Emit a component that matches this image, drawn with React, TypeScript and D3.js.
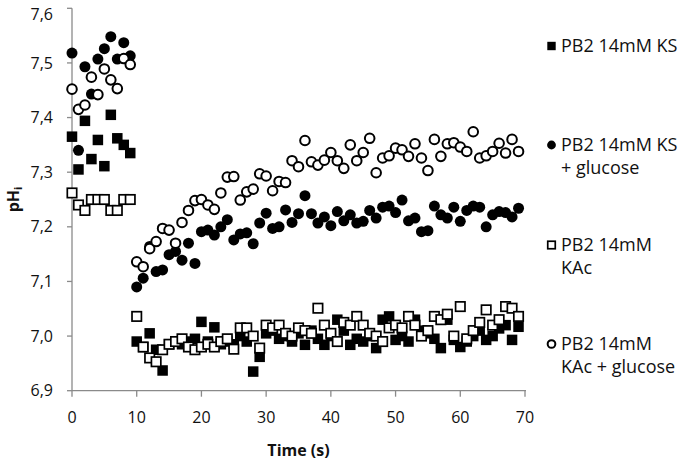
import React from "react";
import * as d3 from "d3";

// time points (s)
const timeA = [0, 1, 2, 3, 4, 5, 6, 7, 8, 9];
const timeB = d3.range(10, 70);

// PB2 14mM KS (filled squares)
const ksA = [7.365, 7.305, 7.394, 7.324, 7.359, 7.311, 7.405, 7.362, 7.35, 7.335];
const ksB = [6.99, 6.98, 7.005, 6.975, 6.937, 6.985, 6.99, 6.985, 6.99, 6.995,
  7.026, 6.99, 7.016, 6.985, 6.99, 6.985, 7.0, 6.99, 6.935, 6.962,
  7.005, 7.01, 6.995, 7.0, 6.99, 7.005, 6.984, 7.01, 6.995, 6.984,
  7.0, 7.03, 7.01, 6.984, 6.995, 6.99, 7.0, 6.978, 7.03, 7.036,
  6.993, 7.0, 6.99, 7.03, 7.01, 7.005, 6.995, 6.978, 7.03, 6.993,
  6.98, 6.99, 7.0, 7.01, 6.993, 7.0, 7.014, 7.02, 6.993, 7.017];

// PB2 14mM KS + glucose (filled circles)
const ksgA = [7.518, 7.34, 7.493, 7.443, 7.507, 7.526, 7.548, 7.507, 7.537, 7.513];
const ksgB = [7.09, 7.106, 7.164, 7.118, 7.121, 7.149, 7.155, 7.139, 7.17, 7.133,
  7.191, 7.194, 7.185, 7.2, 7.213, 7.176, 7.187, 7.189, 7.169, 7.207,
  7.225, 7.197, 7.2, 7.231, 7.208, 7.224, 7.257, 7.224, 7.207, 7.218,
  7.202, 7.228, 7.211, 7.222, 7.207, 7.21, 7.23, 7.216, 7.236, 7.238,
  7.226, 7.249, 7.211, 7.216, 7.191, 7.193, 7.238, 7.222, 7.216, 7.236,
  7.21, 7.23, 7.238, 7.236, 7.2, 7.222, 7.228, 7.226, 7.218, 7.234];

// PB2 14mM KAc (open squares)
const kacA = [7.262, 7.24, 7.23, 7.25, 7.25, 7.25, 7.23, 7.23, 7.25, 7.25];
const kacB = [7.036, 6.98, 6.96, 6.953, 6.975, 6.985, 6.99, 6.995, 6.98, 6.975,
  6.98, 6.985, 6.98, 6.99, 6.995, 6.976, 7.015, 7.015, 7.0, 6.978,
  7.02, 7.015, 7.02, 7.005, 7.0, 7.015, 7.01, 7.005, 7.051, 7.02,
  7.005, 6.99, 7.025, 7.02, 7.036, 7.02, 7.005, 7.0, 6.99, 7.015,
  7.02, 7.015, 7.036, 7.02, 7.0, 7.01, 7.036, 7.03, 7.04, 7.0,
  7.054, 6.995, 7.01, 7.025, 7.048, 7.02, 7.03, 7.054, 7.051, 7.036];

// PB2 14mM KAc + glucose (open circles)
const kacgA = [7.452, 7.415, 7.423, 7.474, 7.442, 7.489, 7.469, 7.453, 7.508, 7.497];
const kacgB = [7.136, 7.127, 7.16, 7.173, 7.197, 7.194, 7.17, 7.208, 7.23, 7.248,
  7.25, 7.24, 7.232, 7.262, 7.291, 7.292, 7.249, 7.264, 7.269, 7.297,
  7.293, 7.266, 7.283, 7.281, 7.321, 7.31, 7.358, 7.319, 7.313, 7.322,
  7.336, 7.321, 7.307, 7.35, 7.321, 7.336, 7.362, 7.299, 7.326, 7.33,
  7.344, 7.341, 7.329, 7.352, 7.326, 7.303, 7.36, 7.329, 7.352, 7.354,
  7.346, 7.338, 7.374, 7.326, 7.33, 7.338, 7.353, 7.335, 7.36, 7.338];

const xTicks = [0, 10, 20, 30, 40, 50, 60, 70];
const yTicks = [6.9, 7.0, 7.1, 7.2, 7.3, 7.4, 7.5, 7.6];
const yTickLabels = ["6,9", "7,0", "7,1", "7,2", "7,3", "7,4", "7,5", "7,6"];

const legendLabels = [
  ["PB2 14mM KS"],
  ["PB2 14mM KS", "+ glucose"],
  ["PB2 14mM", "KAc"],
  ["PB2 14mM", "KAc + glucose"],
];

const W = 680, H = 461;
const FONT = "'Open Sans', sans-serif";
const AXIS = "#8a8a8a";

type Kind = "fsq" | "fci" | "osq" | "oci";

function Marker({ kind, cx, cy, s = 1 }: { kind: Kind; cx: number; cy: number; s?: number }) {
  if (kind === "fsq") {
    const a = 10.5 * s;
    return <rect x={cx - a / 2} y={cy - a / 2} width={a} height={a} fill="#000" />;
  }
  if (kind === "osq") {
    const a = 9.4 * s;
    return <rect x={cx - a / 2} y={cy - a / 2} width={a} height={a} fill="#fff" stroke="#000" strokeWidth={1.7} />;
  }
  if (kind === "fci") {
    return <circle cx={cx} cy={cy} r={5.5 * s} fill="#000" />;
  }
  return <circle cx={cx} cy={cy} r={4.8 * s} fill="#fff" stroke="#000" strokeWidth={2} />;
}

export default function App() {
  const x = d3.scaleLinear().domain([0, 70]).range([72, 525]);
  const y = d3.scaleLinear().domain([6.9, 7.6]).range([390.7, 8.3]);

  const series: { kind: Kind; a: number[]; b: number[] }[] = [
    { kind: "fsq", a: ksA, b: ksB },
    { kind: "fci", a: ksgA, b: ksgB },
    { kind: "osq", a: kacA, b: kacB },
    { kind: "oci", a: kacgA, b: kacgB },
  ];

  const legendY = [46, 145, 245, 344];

  return (
    <svg width={W} height={H} style={{ position: "absolute", left: 0, top: 0, background: "#fff" }} fontFamily={FONT}>
      <rect width={W} height={H} fill="#fff" />
      {/* axes */}
      <line x1={x(0)} x2={x(0)} y1={y(7.6)} y2={y(6.9)} stroke={AXIS} strokeWidth={1.3} />
      <line x1={x(0)} x2={x(70) + 1} y1={y(6.9)} y2={y(6.9)} stroke={AXIS} strokeWidth={1.3} />
      {yTicks.map((v, i) => (
        <g key={"y" + i}>
          <line x1={x(0) - 5} x2={x(0)} y1={y(v)} y2={y(v)} stroke={AXIS} strokeWidth={1.3} />
          <text x={53} y={Math.max(y(v), 14)} dy="0.35em" textAnchor="end" fontSize={16} fill="#111">{yTickLabels[i]}</text>
        </g>
      ))}
      {xTicks.map((t) => (
        <g key={"x" + t}>
          <line x1={x(t)} x2={x(t)} y1={y(6.9)} y2={y(6.9) + 6} stroke={AXIS} strokeWidth={1.3} />
          <text x={x(t)} y={417} dy="0.35em" textAnchor="middle" fontSize={16} fill="#111">{t}</text>
        </g>
      ))}
      <text x={(x(0) + x(70)) / 2} y={450} dy="0.35em" textAnchor="middle" fontSize={16} fontWeight="bold" fill="#111">Time (s)</text>
      <text transform={`translate(19,${(y(7.6) + y(6.9)) / 2}) rotate(-90)`} textAnchor="middle" fontSize={16} fontWeight="bold" fill="#111">
        pH<tspan fontSize={11} dy="3">i</tspan>
      </text>
      {/* data */}
      {series.map((s, si) => (
        <g key={"s" + si}>
          {timeA.map((t, i) => <Marker key={"a" + i} kind={s.kind} cx={x(t)} cy={y(s.a[i])} />)}
          {timeB.map((t, i) => <Marker key={"b" + i} kind={s.kind} cx={x(t)} cy={y(s.b[i])} />)}
        </g>
      ))}
      {/* legend */}
      {series.map((s, i) => (
        <g key={"l" + i}>
          <Marker kind={s.kind} cx={551.5} cy={legendY[i]} s={0.8} />
          {legendLabels[i].map((line, j) => (
            <text key={j} x={561} y={legendY[i] + j * 23} dy="0.35em" fontSize={18} fill="#111">{line}</text>
          ))}
        </g>
      ))}
    </svg>
  );
}
